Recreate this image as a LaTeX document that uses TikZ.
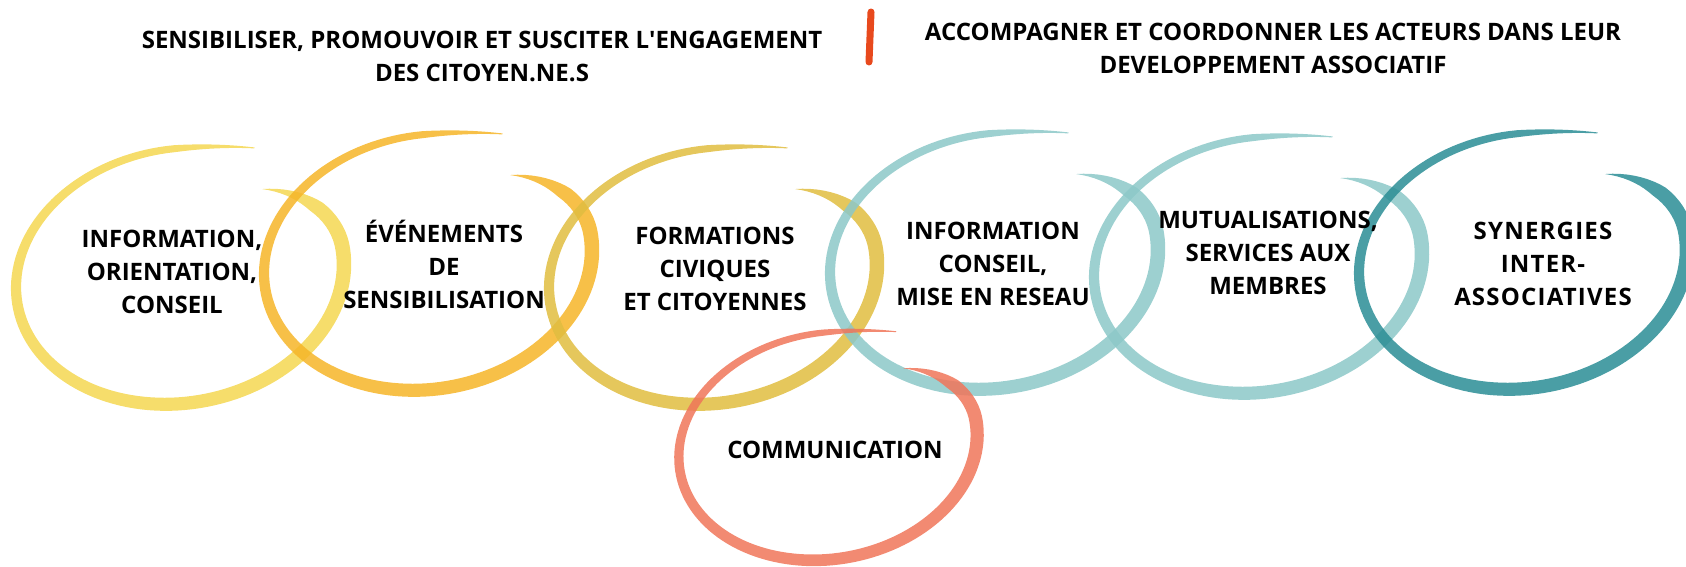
\documentclass[tikz,border=0pt]{standalone}
\usepackage{fontspec}
\setmainfont{Open Sans}
\usetikzlibrary{positioning}

\definecolor{loopyellow}{HTML}{F4D751}
\definecolor{looporange}{HTML}{F6B528}
\definecolor{loopmustard}{HTML}{E0BD3F}
\definecolor{loopteal}{HTML}{8CC8C8}
\definecolor{loopdarkteal}{HTML}{2A8D95}
\definecolor{loopsalmon}{HTML}{F07559}
\definecolor{barred}{HTML}{E8491D}

\tikzset{
  declare function={
    loopr(\t)=(\t<84) ? 1+0.063*((84-\t)/27)^2 : ((\t<360) ? 1 : 1-0.191*((\t-360)/44)^2);
    loopw(\t)=(\t<84) ? 1+6*(\t-57)/27 : ((\t<250) ? 7+6*(\t-84)/166 : ((\t<382) ? 13+2*(\t-250)/132 : 15*(404-\t)/22));
  },
  looptext/.style={font=\fontsize{24}{33}\selectfont\bfseries, align=center, inner sep=0pt},
  headtext/.style={font=\fontsize{24}{33}\selectfont\bfseries, align=center, inner sep=0pt}
}

\newcommand{\brushloop}[3]{%
  \fill[shift={(#2,#3)}, rotate=10, #1]
    plot[domain=57:404, samples=140, variable=\t]
      ({(165*loopr(\t)+loopw(\t)/2)*cos(\t)}, {-(127*loopr(\t)+loopw(\t)/2)*sin(\t)})
    -- plot[domain=404:57, samples=140, variable=\t]
      ({(165*loopr(\t)-loopw(\t)/2)*cos(\t)}, {-(127*loopr(\t)-loopw(\t)/2)*sin(\t)})
    -- cycle;}

\begin{document}
\begin{tikzpicture}[x=1pt,y=-1pt]
\useasboundingbox (0,0) rectangle (1686,567);
\clip (0,0) rectangle (1686,567);

\brushloop{fill=loopyellow, fill opacity=.85}{180}{276}
\brushloop{fill=looporange, fill opacity=.85}{428}{262}
\brushloop{fill=loopmustard, fill opacity=.85}{713}{276}
\brushloop{fill=loopteal, fill opacity=.85}{994}{261}
\brushloop{fill=loopteal, fill opacity=.85}{1258}{265}
\brushloop{fill=loopdarkteal, fill opacity=.85}{1523}{261}
\brushloop{fill=loopsalmon, fill opacity=.85, xscale=.91, yscale=.89}{828}{446}

\draw[barred, line width=7pt, line cap=round] (871,12) -- (869,62);

\node[headtext] (engage) at (482,56) {SENSIBILISER, PROMOUVOIR ET SUSCITER L\textquotesingle ENGAGEMENT\\DES CITOYEN.NE.S};
\node[headtext] (support) at (1273,48) {ACCOMPAGNER ET COORDONNER LES ACTEURS DANS LEUR\\DEVELOPPEMENT ASSOCIATIF};

\node[looptext] (info) at (172,272) {INFORMATION,\\ORIENTATION,\\CONSEIL};
\node[looptext] (events) at (444,264) {ÉVÉNEMENTS\\DE\\SENSIBILISATION};
\node[looptext] (training) at (715,269) {FORMATIONS\\CIVIQUES\\ET CITOYENNES};
\node[looptext] (network) at (993,264) {INFORMATION\\CONSEIL,\\MISE EN RESEAU};
\node[looptext] (pooling) at (1268,253) {MUTUALISATIONS,\\SERVICES AUX\\MEMBRES};
\node[looptext, font=\fontsize{24}{33}\selectfont\bfseries\addfontfeature{LetterSpace=5}] (synergy) at (1543,264) {SYNERGIES\\INTER-\\ASSOCIATIVES};
\node[looptext] (comm) at (835,450) {COMMUNICATION};
\end{tikzpicture}
\end{document}
